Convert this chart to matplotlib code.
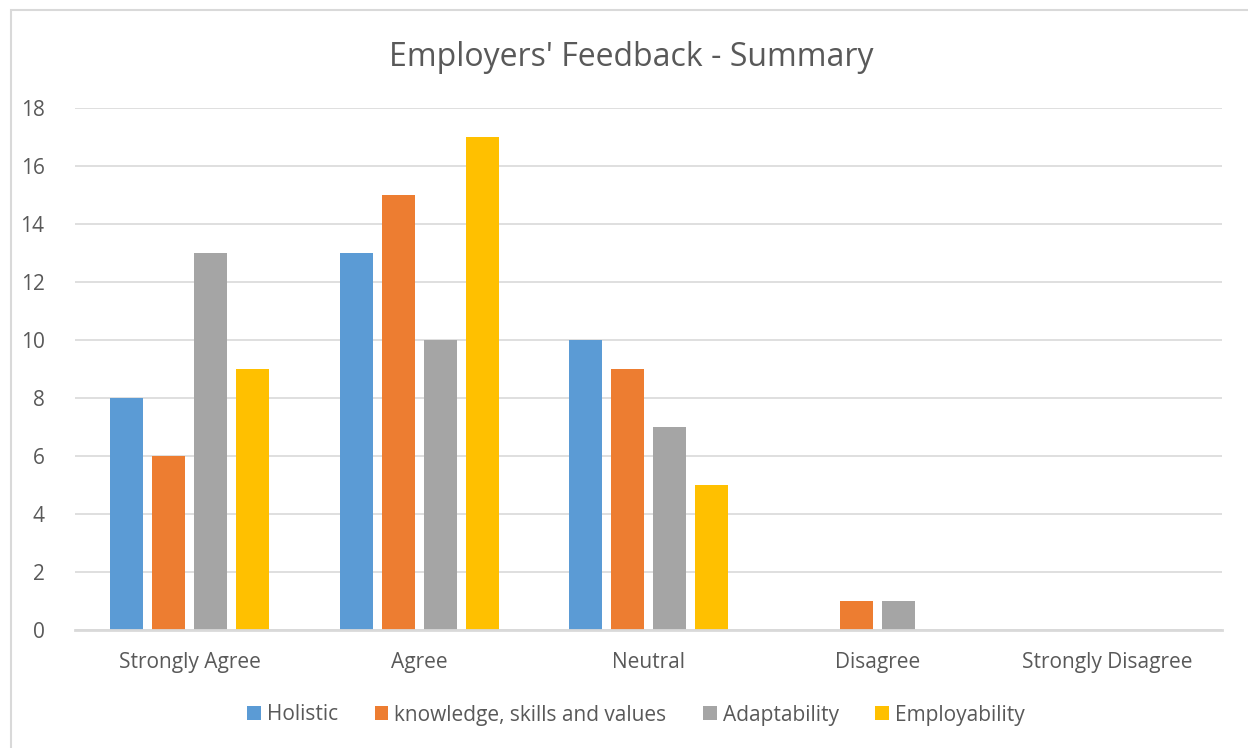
import numpy as np
import matplotlib.pyplot as plt
from matplotlib.patches import Rectangle

plt.rcParams['font.family'] = ['Open Sans', 'DejaVu Sans']

categories = ["Strongly Agree", "Agree", "Neutral", "Disagree", "Strongly Disagree"]
series_names = ["Holistic", "knowledge, skills and values", "Adaptability", "Employability"]
holistic = [8, 13, 10, 0, 0]
knowledge = [6, 15, 9, 1, 0]
adaptability = [13, 10, 7, 1, 0]
employability = [9, 17, 5, 0, 0]
colors = ["#5B9BD5", "#ED7D31", "#A5A5A5", "#FFC000"]

text_color = "#595959"
grid_color = "#D9D9D9"

fig = plt.figure(figsize=(12.48, 7.48), dpi=100)
ax = fig.add_axes([75 / 1248, 1 - 630 / 748, 1147 / 1248, 522 / 748])

x = np.arange(len(categories))
step = 0.183
width = 0.144
for i, (vals, name) in enumerate(zip([holistic, knowledge, adaptability, employability], series_names)):
    ax.bar(x + (i - 1.5) * step, vals, width, color=colors[i], label=name, zorder=3)

ax.set_xlim(-0.5, len(categories) - 0.5)
ax.set_ylim(0, 18)
ax.set_yticks(range(0, 19, 2))
ax.set_xticks(x)
ax.set_xticklabels(categories)
ax.grid(axis="y", color=grid_color, linewidth=1.2, zorder=0)
for s in ["top", "right", "left"]:
    ax.spines[s].set_visible(False)
ax.spines["bottom"].set_color(grid_color)
ax.spines["bottom"].set_linewidth(2)
ax.spines["bottom"].set_zorder(4)
ax.tick_params(axis="both", length=0, colors=text_color, labelsize=15)
ax.tick_params(axis="y", pad=22)
ax.tick_params(axis="x", pad=16)

fig.text(631 / 1248, 1 - 57 / 748, "Employers' Feedback - Summary", ha="center", va="center",
         fontsize=23, color=text_color)

fig.legend(loc="center", bbox_to_anchor=(636 / 1248, 1 - 715 / 748), ncol=4, frameon=False,
           fontsize=15, labelcolor=text_color, handlelength=0.65, handleheight=0.65,
           handletextpad=0.3, columnspacing=1.75)

fig.patches.append(Rectangle((11 / 1248, -0.1), 1.2, 1 - 10 / 748 + 0.1, transform=fig.transFigure,
                             fill=False, edgecolor=grid_color, linewidth=1.5))

fig.savefig("out.png", dpi=100)
